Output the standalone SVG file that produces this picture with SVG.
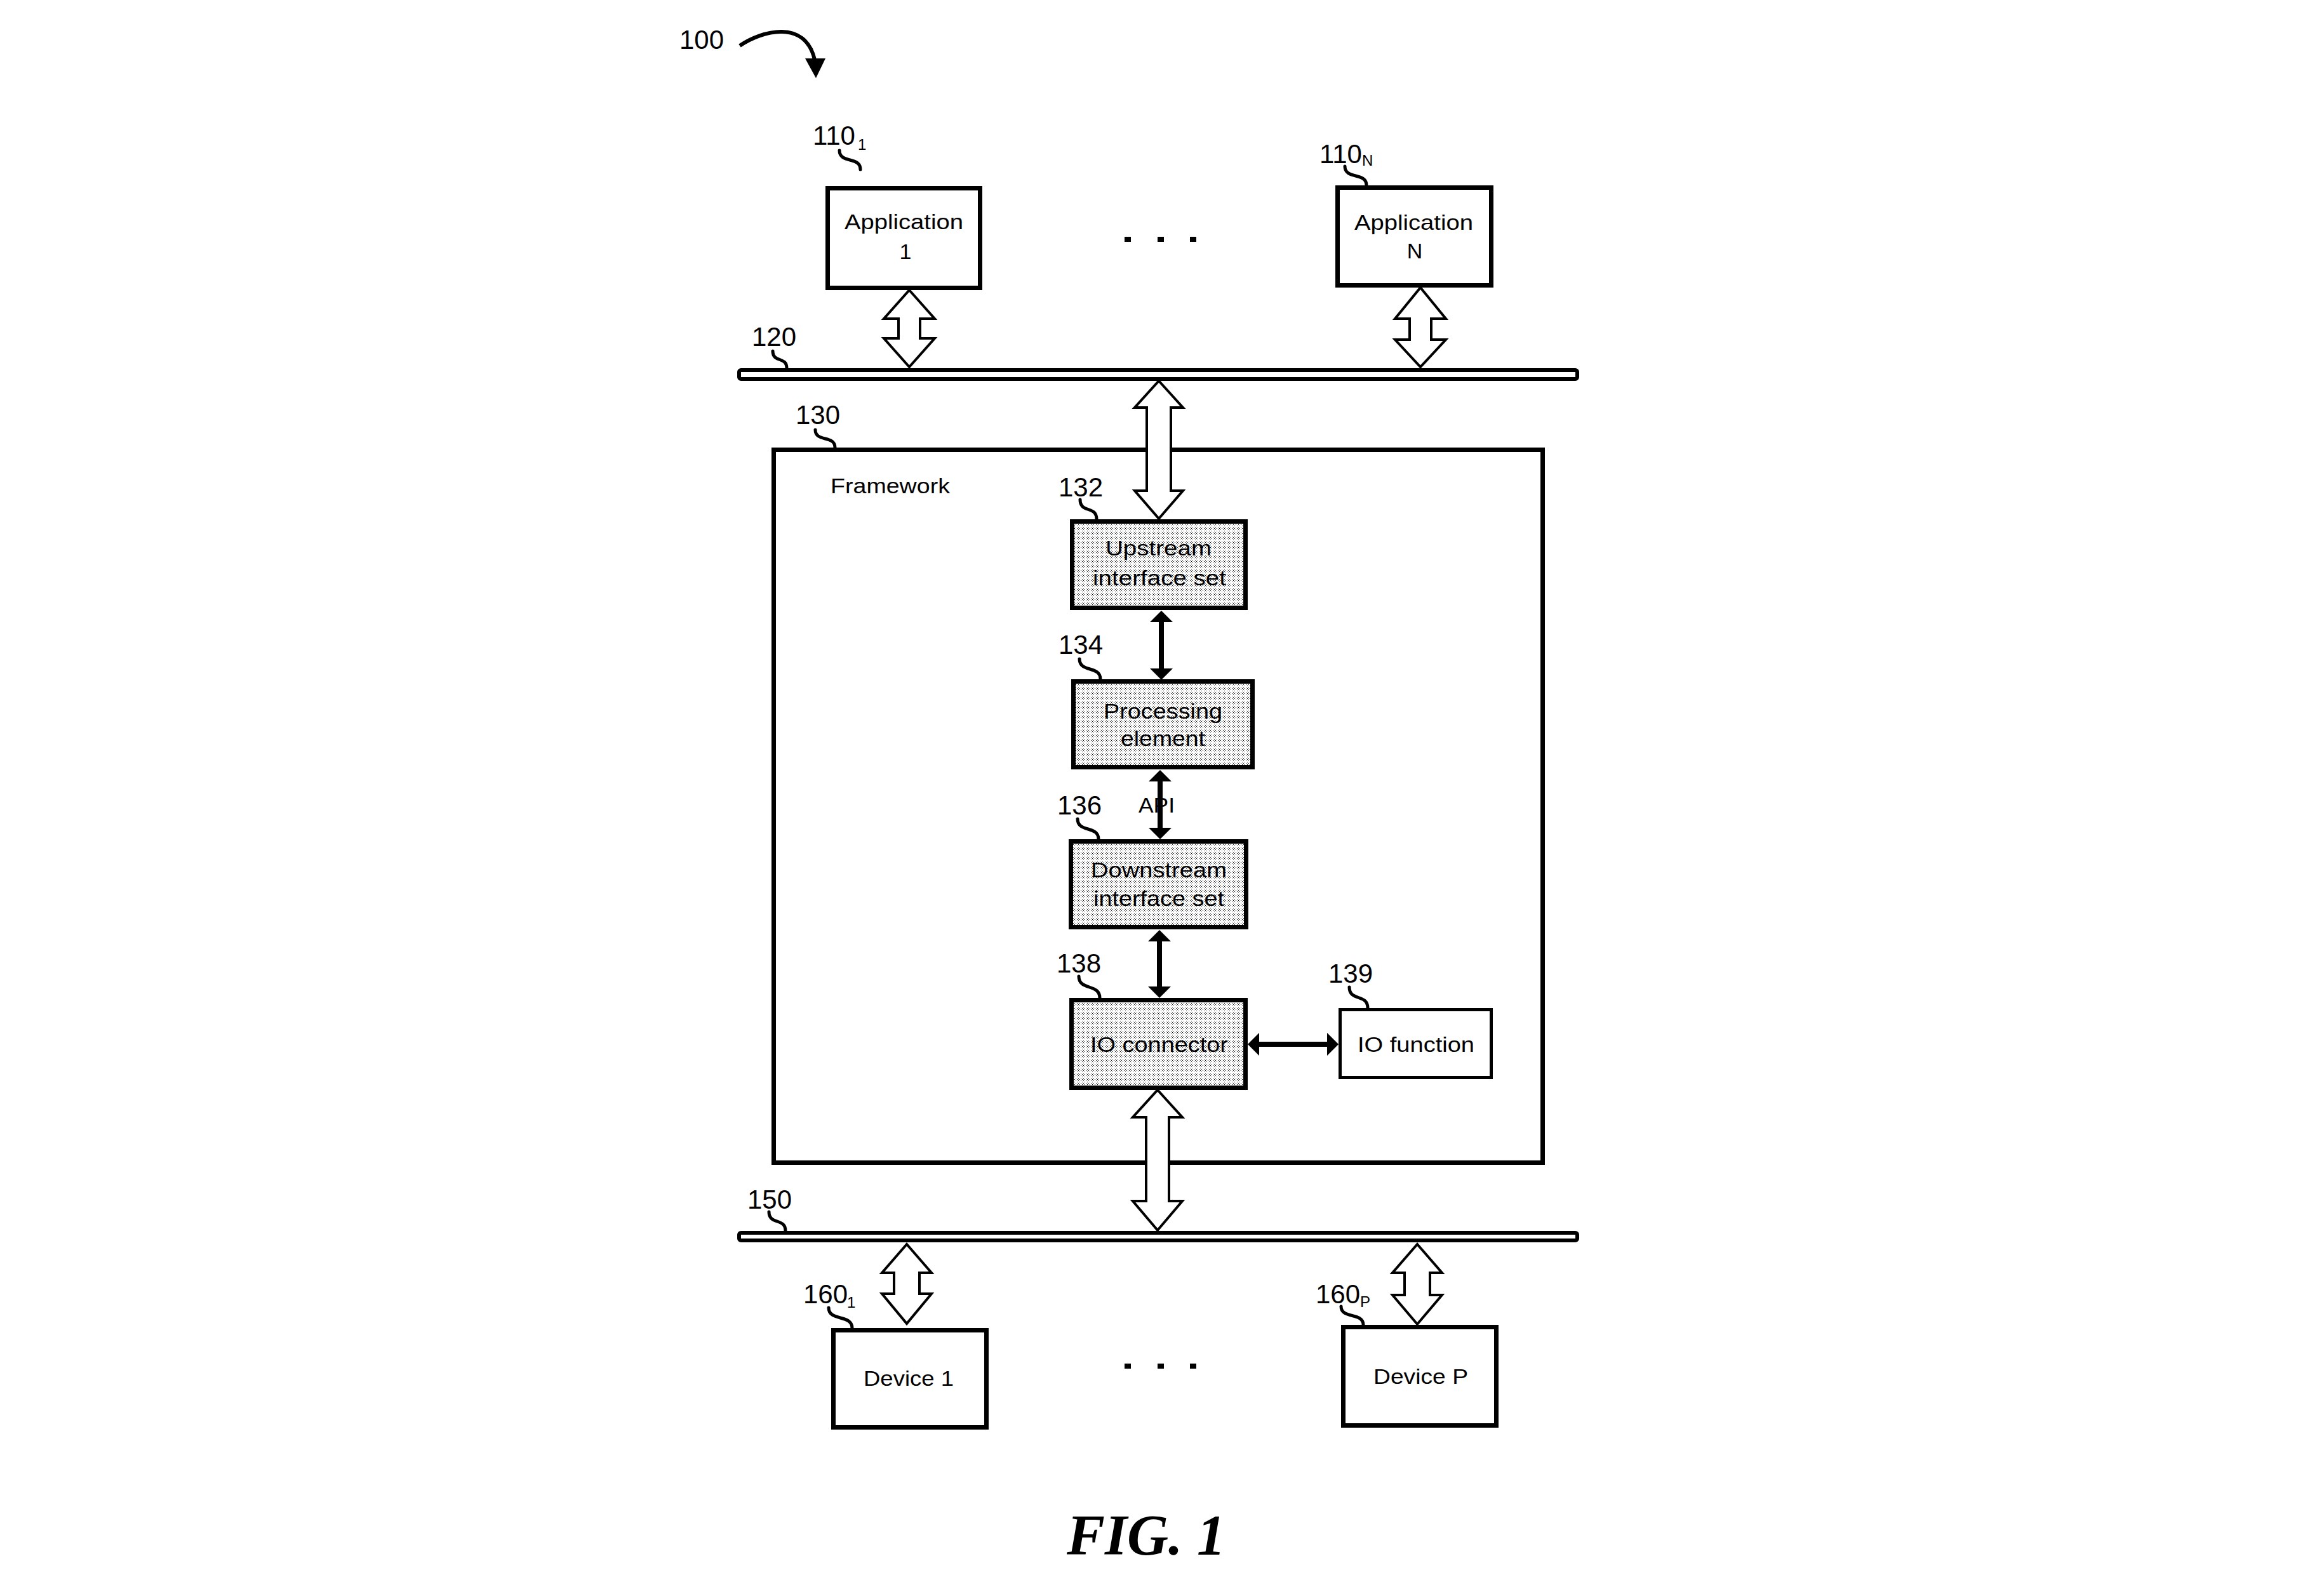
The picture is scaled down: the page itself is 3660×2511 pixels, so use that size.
<svg xmlns="http://www.w3.org/2000/svg" width="3660" height="2511" viewBox="0 0 3660 2511">
<style>
.box{fill:#fff;stroke:#000;stroke-width:7}
.sbox{fill:url(#stip);stroke:#000;stroke-width:7}
.bus{fill:#fff;stroke:#000;stroke-width:6}
.t{font-family:"Liberation Sans",Arial,sans-serif;font-size:34px;fill:#000;text-anchor:middle}
.lb{font-family:"Liberation Sans",Arial,sans-serif;font-size:42px;fill:#000}
.sub{font-family:"Liberation Sans",Arial,sans-serif;font-size:24px;fill:#000}
.sq{fill:none;stroke:#000;stroke-width:5;stroke-linecap:round}
.harrow{fill:#fff;stroke:#000;stroke-width:4;stroke-linejoin:miter}
.sarrow{stroke:#000;stroke-width:8;fill:none;marker-start:url(#ah);marker-end:url(#ah)}
.fig{font-family:"Liberation Serif","Times New Roman",serif;font-size:90px;font-weight:bold;font-style:italic;text-anchor:middle;fill:#000}
</style>
<defs>
<pattern id="stip" patternUnits="userSpaceOnUse" width="4" height="4">
<rect width="4" height="4" fill="#fff"/>
<rect x="0" y="0" width="1" height="1" fill="#000"/>
<rect x="2" y="2" width="1" height="1" fill="#000"/>
</pattern>
<marker id="ah" markerUnits="userSpaceOnUse" viewBox="0 0 18 36" refX="10" refY="18" markerWidth="18" markerHeight="36" orient="auto-start-reverse">
<path d="M0,0 L18,18 L0,36 z" fill="#000"/>
</marker>
</defs>
<rect width="3660" height="2511" fill="#fff"/>

<g id="ref100">
<text class="lb" x="1070" y="77" font-size="43">100</text>
<path d="M1165,72 C1200,48 1268,30 1283,94" fill="none" stroke="#000" stroke-width="6"/>
<polygon points="1268,92 1300,92 1285,123" fill="#000"/>
</g>

<g id="framework">
<rect class="box" x="1218.5" y="708.5" width="1211" height="1123"/>
<text class="t" x="1308" y="777" textLength="188" lengthAdjust="spacingAndGlyphs" style="text-anchor:start">Framework</text>
<text class="lb" x="1253" y="668">130</text>
<path class="sq" d="M1284,677 C1284,697 1315,685 1315,705"/>
</g>

<g id="bus120">
<rect class="bus" x="1164" y="583" width="1320" height="14" rx="3"/>
<text class="lb" x="1184" y="545">120</text>
<path class="sq" d="M1217,553 C1217,572 1239,561 1239,580"/>
</g>

<g id="bus150">
<rect class="bus" x="1164" y="1942" width="1320" height="12" rx="3"/>
<text class="lb" x="1177" y="1904">150</text>
<path class="sq" d="M1211,1909 C1211,1930 1237,1918 1237,1939"/>
</g>

<g id="app1">
<rect class="box" x="1303.5" y="296.5" width="240" height="157"/>
<text class="t" x="1423.5" y="361" textLength="187" lengthAdjust="spacingAndGlyphs">Application</text>
<text class="t" x="1426" y="408">1</text>
<text class="lb" x="1280" y="228">110</text>
<text class="sub" x="1351" y="236">1</text>
<path class="sq" d="M1322,237 C1322,258 1355,246 1355,267"/>
</g>

<g id="appN">
<rect class="box" x="2106.5" y="295.5" width="242" height="154"/>
<text class="t" x="2226.5" y="362" textLength="187" lengthAdjust="spacingAndGlyphs">Application</text>
<text class="t" x="2228" y="407">N</text>
<text class="lb" x="2078" y="257">110</text>
<text class="sub" x="2145" y="261" font-size="18">N</text>
<path class="sq" d="M2118,262 C2118,283 2152,271 2152,292"/>
</g>

<g id="dots-top">
<rect x="1771" y="373" width="10" height="8" fill="#000"/>
<rect x="1823" y="373" width="10" height="8" fill="#000"/>
<rect x="1874" y="373" width="10" height="8" fill="#000"/>
</g>

<g id="upstream">
<rect class="sbox" x="1688.5" y="821.5" width="273" height="136"/>
<text class="t" x="1824.5" y="875" textLength="167" lengthAdjust="spacingAndGlyphs">Upstream</text>
<text class="t" x="1826" y="922" textLength="210" lengthAdjust="spacingAndGlyphs">interface set</text>
<text class="lb" x="1667" y="782">132</text>
<path class="sq" d="M1701,787 C1701,809 1727,796 1727,818"/>
</g>

<g id="processing">
<rect class="sbox" x="1690.5" y="1073.5" width="282" height="135"/>
<text class="t" x="1831.5" y="1132" textLength="187" lengthAdjust="spacingAndGlyphs">Processing</text>
<text class="t" x="1831.5" y="1175" textLength="133" lengthAdjust="spacingAndGlyphs">element</text>
<text class="lb" x="1667" y="1030">134</text>
<path class="sq" d="M1700,1038 C1700,1060 1733,1048 1733,1070"/>
</g>

<g id="downstream">
<rect class="sbox" x="1686.5" y="1325.5" width="276" height="135"/>
<text class="t" x="1825" y="1382" textLength="214" lengthAdjust="spacingAndGlyphs">Downstream</text>
<text class="t" x="1825" y="1427" textLength="206" lengthAdjust="spacingAndGlyphs">interface set</text>
<text class="lb" x="1665" y="1283">136</text>
<path class="sq" d="M1697,1290 C1697,1312 1730,1300 1730,1322"/>
</g>

<g id="ioconnector">
<rect class="sbox" x="1687.5" y="1575.5" width="274" height="138"/>
<text class="t" x="1825.5" y="1657" textLength="217" lengthAdjust="spacingAndGlyphs">IO connector</text>
<text class="lb" x="1664" y="1532">138</text>
<path class="sq" d="M1699,1538 C1699,1561 1732,1549 1732,1572"/>
</g>

<g id="iofunction">
<rect class="box" x="2110.5" y="1590.5" width="238" height="107" style="stroke-width:5"/>
<text class="t" x="2230" y="1657" textLength="184" lengthAdjust="spacingAndGlyphs">IO function</text>
<text class="lb" x="2092" y="1548">139</text>
<path class="sq" d="M2125,1555 C2125,1578 2154,1565 2154,1588"/>
</g>

<g id="device1">
<rect class="box" x="1312.5" y="2095.5" width="241" height="153"/>
<text class="t" x="1431" y="2183" textLength="142" lengthAdjust="spacingAndGlyphs">Device 1</text>
<text class="lb" x="1265" y="2053">160</text>
<text class="sub" x="1334" y="2060">1</text>
<path class="sq" d="M1305,2060 C1305,2082 1342,2070 1342,2092"/>
</g>

<g id="deviceP">
<rect class="box" x="2115.5" y="2090.5" width="241" height="155"/>
<text class="t" x="2237.5" y="2180" textLength="149" lengthAdjust="spacingAndGlyphs">Device P</text>
<text class="lb" x="2072" y="2053">160</text>
<text class="sub" x="2142" y="2059">P</text>
<path class="sq" d="M2112,2058 C2112,2078 2147,2067 2147,2087"/>
</g>

<g id="dots-bottom">
<rect x="1771" y="2148" width="10" height="8" fill="#000"/>
<rect x="1823" y="2148" width="10" height="8" fill="#000"/>
<rect x="1874" y="2148" width="10" height="8" fill="#000"/>
</g>

<g id="connectors">
<polygon class="harrow" points="1432,457 1472,502 1449,502 1449,533 1472,533 1432,578 1392,533 1415,533 1415,502 1392,502"/>
<polygon class="harrow" points="2237,453 2277,502 2254,502 2254,535 2277,535 2237,578 2197,535 2220,535 2220,502 2197,502"/>
<polygon class="harrow" points="1825,600 1863,642 1844,642 1844,773 1863,773 1825,817 1787,773 1806,773 1806,642 1787,642"/>
<polygon class="harrow" points="1823,1717 1862,1760 1841,1760 1841,1892 1862,1892 1823,1938 1784,1892 1805,1892 1805,1760 1784,1760"/>
<polygon class="harrow" points="1428,1960 1467,2005 1448,2005 1448,2038 1467,2038 1428,2085 1389,2038 1408,2038 1408,2005 1389,2005"/>
<polygon class="harrow" points="2232,1960 2271,2005 2252,2005 2252,2040 2271,2040 2232,2086 2193,2040 2212,2040 2212,2005 2193,2005"/>
<line class="sarrow" x1="1829" y1="970" x2="1829" y2="1063"/>
<line class="sarrow" x1="1827" y1="1221" x2="1827" y2="1314"/>
<line class="sarrow" x1="1826" y1="1473" x2="1826" y2="1564"/>
<line class="sarrow" x1="1973" y1="1645" x2="2100" y2="1645"/>
<text class="t" x="1793" y="1280" textLength="57" lengthAdjust="spacingAndGlyphs" style="text-anchor:start">API</text>
</g>

<text class="fig" x="1805" y="2449">FIG. 1</text>
</svg>
